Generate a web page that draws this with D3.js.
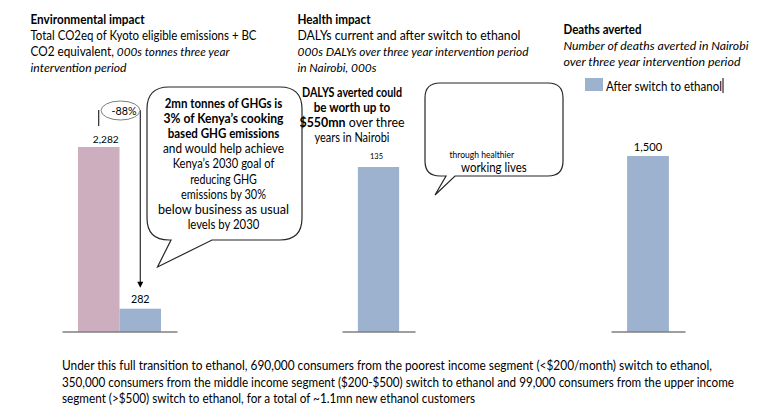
<!DOCTYPE html>
<html><head><meta charset="utf-8">
<script src="https://cdn.jsdelivr.net/npm/d3@7"></script>
<style>body{margin:0;background:#fff}svg{display:block}text{font-family:Lato,"Open Sans",sans-serif;fill:#000}</style>
</head><body><svg id="c" width="777" height="418"></svg>
<script>
// ---------- data ----------
const envCategories = ["Current", "After switch to ethanol"];
const envValues = [2282, 282];
const healthCategories = ["After switch to ethanol"];
const healthValues = [135];
const deathCategories = ["After switch to ethanol"];
const deathValues = [1500];
const changeLabel = "-88%";
const legendLabel = "After switch to ethanol";
const panelTitles = ["Environmental impact", "Health impact", "Deaths averted"];
const envSubtitle = [
  [["Total CO2eq of Kyoto eligible emissions + BC", "n"]],
  [["CO2 equivalent, ", "n"], ["000s tonnes three year", "i"]],
  [["intervention period", "i"]]
];
const healthSubtitle = [
  [["DALYs current and after switch to ethanol", "n"]],
  [["000s DALYs over three year intervention period", "i"]],
  [["in Nairobi, 000s", "i"]]
];
const deathSubtitle = [
  [["Number of deaths averted in Nairobi", "i"]],
  [["over three year intervention period", "i"]]
];
const ghgBubble = [
  [["2mn tonnes of GHGs is", "b"]],
  [["3% of Kenya\u2019s cooking", "b"]],
  [["based GHG emissions", "b"]],
  [["and would help achieve", "n"]],
  [["Kenya\u2019s 2030 goal of", "n"]],
  [["reducing GHG", "n"]],
  [["emissions by 30%", "n"]],
  [["below business as usual", "n"]],
  [["levels by 2030", "n"]]
];
const dalyNote = [
  [["DALYS averted could", "b"]],
  [["be worth up to", "b"]],
  [["$550mn", "b"], [" over three", "n"]],
  [["years in Nairobi", "n"]]
];
const healthBubbleSmall = "through healthier";
const healthBubbleLarge = "working lives";
const footer = [
  "Under this full transition to ethanol, 690,000 consumers from the poorest income segment (<$200/month) switch to ethanol,",
  "350,000 consumers from the middle income segment ($200-$500) switch to ethanol and 99,000 consumers from the upper income",
  "segment (>$500) switch to ethanol, for a total of ~1.1mn new ethanol customers"
];

// ---------- helpers ----------
const svg = d3.select("#c");
const PINK = "#CCAEBE", BLUE = "#9DB2CE";
const fmt = d3.format(",");

function richLines(g, lines, x, y0, dy, size, anchor, widths) {
  const texts = g.selectAll(null).data(lines).join("text")
    .attr("x", x).attr("y", (d, i) => y0 + i * dy)
    .attr("font-size", size).attr("text-anchor", anchor || "start");
  texts.selectAll("tspan").data(d => d).join("tspan")
    .text(d => d[0])
    .attr("font-weight", d => d[1] === "b" ? "bold" : null)
    .attr("font-style", d => d[1] === "i" ? "italic" : null);
  if (widths) texts.attr("textLength", (d, i) => widths[i]).attr("lengthAdjust", "spacingAndGlyphs");
  return texts;
}
function fitTo(texts, idx, target) {
  const node = texts.nodes()[idx];
  const w = node.getComputedTextLength();
  const fs = parseFloat(d3.select(node).attr("font-size"));
  const nfs = fs * target / w;
  texts.attr("font-size", nfs);
  return nfs;
}
function squeeze(sel, w) {
  sel.attr("textLength", w).attr("lengthAdjust", "spacingAndGlyphs");
}
function bubblePath(x0, y0, x1, y1, r, t) {
  const p = d3.path();
  p.moveTo(x0 + r, y0);
  p.lineTo(x1 - r, y0);
  p.quadraticCurveTo(x1, y0, x1, y0 + r);
  p.lineTo(x1, y1 - r);
  p.quadraticCurveTo(x1, y1, x1 - r, y1);
  p.lineTo(t[1], y1);
  p.lineTo(t[2], t[3]);
  p.lineTo(t[0], y1);
  p.lineTo(x0 + r, y1);
  p.quadraticCurveTo(x0, y1, x0, y1 - r);
  p.lineTo(x0, y0 + r);
  p.quadraticCurveTo(x0, y0, x0 + r, y0);
  p.closePath();
  return p.toString();
}
const BASE = 331.5;
const TS = 12.4;

// ---------- titles ----------
const t1 = svg.append("g");
squeeze(t1.append("text").attr("x", 30.5).attr("y", 24).attr("font-weight", "bold").attr("font-size", TS).text(panelTitles[0]), 114);
richLines(t1, envSubtitle, 30.5, 40, 16, TS, "start", [226, 199, 96]);

const t2 = svg.append("g");
squeeze(t2.append("text").attr("x", 297.5).attr("y", 24).attr("font-weight", "bold").attr("font-size", TS).text(panelTitles[1]), 73);
richLines(t2, healthSubtitle, 297.5, 40, 16, TS, "start", [223, 231, 79]);

const t3 = svg.append("g");
squeeze(t3.append("text").attr("x", 563.5).attr("y", 33.5).attr("font-weight", "bold").attr("font-size", TS).text(panelTitles[2]), 78);
richLines(t3, deathSubtitle, 563.5, 49.5, 16, TS, "start", [185, 177]);

// ---------- panel 1 ----------
const x1 = d3.scaleBand().domain(envCategories).range([62, 177]).paddingInner(0).paddingOuter(0.385);
const y1 = d3.scaleLinear().domain([0, d3.max(envValues)]).range([BASE, 147]);
const p1 = svg.append("g");
p1.selectAll("rect").data(envCategories).join("rect")
  .attr("x", d => x1(d)).attr("width", x1.bandwidth())
  .attr("y", (d, i) => y1(envValues[i])).attr("height", (d, i) => BASE - y1(envValues[i]))
  .attr("fill", (d, i) => i === 0 ? PINK : BLUE);
p1.append("g").attr("transform", `translate(0,${BASE})`)
  .call(d3.axisBottom(x1).tickSize(0).tickFormat(""))
  .call(g => g.select(".domain").attr("stroke", "#404040").attr("stroke-width", 1.2));
const l1a = p1.append("text").attr("x", x1(envCategories[0]) + x1.bandwidth() / 2 + 7).attr("y", y1(envValues[0]) - 4.5)
  .attr("text-anchor", "middle").attr("font-size", 11).attr("fill", "#262626").text(fmt(envValues[0]));
fitTo(l1a, 0, 26);
const l1b = p1.append("text").attr("x", x1(envCategories[1]) + x1.bandwidth() / 2).attr("y", y1(envValues[1]) - 5.5)
  .attr("text-anchor", "middle").attr("font-size", 11).attr("fill", "#262626").text(fmt(envValues[1]));
fitTo(l1b, 0, 18.6);

// change annotation
const cxL = x1(envCategories[0]) + x1.bandwidth() / 2, cxR = x1(envCategories[1]) + x1.bandwidth() / 2;
p1.append("line").attr("x1", cxL).attr("x2", cxL).attr("y1", 110).attr("y2", 126).attr("stroke", "#000").attr("stroke-width", 1);
p1.append("line").attr("x1", cxR).attr("x2", cxR).attr("y1", 110).attr("y2", y1(envValues[1]) - 24).attr("stroke", "#000").attr("stroke-width", 1);
p1.append("path").attr("d", `M${cxR - 3},${y1(envValues[1]) - 27}L${cxR + 3},${y1(envValues[1]) - 27}L${cxR},${y1(envValues[1]) - 21}Z`).attr("fill", "#000");
p1.append("ellipse").attr("cx", 120.5).attr("cy", 110.5).attr("rx", 19.5).attr("ry", 9.5)
  .attr("fill", "#fff").attr("stroke", "#7f7f7f").attr("stroke-width", 1);
const ch = p1.append("text").attr("x", 124).attr("y", 115).attr("text-anchor", "middle").attr("font-size", 11).text(changeLabel);
fitTo(ch, 0, 25);

// GHG bubble
p1.append("path").attr("d", bubblePath(147, 87, 302, 240, 22, [171, 212, 157.5, 267]))
  .attr("fill", "#fff").attr("stroke", "#262626").attr("stroke-width", 1.2);
richLines(p1, ghgBubble, 223.5, 107.5, 15.2, 12.4, "middle", [117.7, 120, 111.7, 121, 101.7, 66.7, 85, 131, 71.7]);

// ---------- panel 2 ----------
const x2 = d3.scaleBand().domain(healthCategories).range([342, 415]).paddingInner(0).paddingOuter(0.385);
const y2 = d3.scaleLinear().domain([0, d3.max(healthValues)]).range([BASE, 167]);
const p2 = svg.append("g");
p2.selectAll("rect").data(healthCategories).join("rect")
  .attr("x", d => x2(d)).attr("width", x2.bandwidth())
  .attr("y", (d, i) => y2(healthValues[i])).attr("height", (d, i) => BASE - y2(healthValues[i]))
  .attr("fill", BLUE);
p2.append("g").attr("transform", `translate(0,${BASE})`)
  .call(d3.axisBottom(x2).tickSize(0).tickFormat(""))
  .call(g => g.select(".domain").attr("stroke", "#404040").attr("stroke-width", 1.2));
const l2 = p2.append("text").attr("x", x2(healthCategories[0]) + x2.bandwidth() / 2 - 2).attr("y", y2(healthValues[0]) - 8)
  .attr("text-anchor", "middle").attr("font-size", 9).attr("fill", "#262626").text(fmt(healthValues[0]));
fitTo(l2, 0, 13);
richLines(p2, dalyNote, 352, 96.5, 15.3, 12.4, "middle", [100, 76.6, 105, 75]);

p2.append("path").attr("d", bubblePath(425, 83, 563, 176, 15, [446, 455, 435, 195]))
  .attr("fill", "#fff").attr("stroke", "#262626").attr("stroke-width", 1.2);
const hs = p2.append("text").attr("x", 449.5).attr("y", 158).attr("font-size", 8).text(healthBubbleSmall);
fitTo(hs, 0, 64.7);
const hl = p2.append("text").attr("x", 461).attr("y", 172).attr("font-size", 12.4).text(healthBubbleLarge);
squeeze(hl, 65.7);

// ---------- panel 3 ----------
const x3 = d3.scaleBand().domain(deathCategories).range([611, 685]).paddingInner(0).paddingOuter(0.385);
const y3 = d3.scaleLinear().domain([0, d3.max(deathValues)]).range([BASE, 156]);
const p3 = svg.append("g");
p3.selectAll("rect").data(deathCategories).join("rect")
  .attr("x", d => x3(d)).attr("width", x3.bandwidth())
  .attr("y", (d, i) => y3(deathValues[i])).attr("height", (d, i) => BASE - y3(deathValues[i]))
  .attr("fill", BLUE);
p3.append("g").attr("transform", `translate(0,${BASE})`)
  .call(d3.axisBottom(x3).tickSize(0).tickFormat(""))
  .call(g => g.select(".domain").attr("stroke", "#404040").attr("stroke-width", 1.2));
const l3 = p3.append("text").attr("x", x3(deathCategories[0]) + x3.bandwidth() / 2).attr("y", y3(deathValues[0]) - 5)
  .attr("text-anchor", "middle").attr("font-size", 11).attr("fill", "#262626").text(fmt(deathValues[0]));
fitTo(l3, 0, 28.3);

// legend
p3.append("rect").attr("x", 585).attr("y", 78).attr("width", 18).attr("height", 13).attr("fill", BLUE);
const lg = p3.append("text").attr("x", 606).attr("y", 90.5).attr("font-size", 12.4).text(legendLabel);
squeeze(lg, 116);
p3.append("line").attr("x1", 723).attr("x2", 723).attr("y1", 78).attr("y2", 93).attr("stroke", "#000").attr("stroke-width", 1);

// ---------- footer ----------
svg.append("g").selectAll("text").data(footer).join("text")
  .attr("x", 62).attr("y", (d, i) => 370 + i * 16.5).attr("font-size", 12.4).text(d => d)
  .attr("textLength", (d, i) => [650, 672, 413][i]).attr("lengthAdjust", "spacingAndGlyphs");
</script></body></html>
